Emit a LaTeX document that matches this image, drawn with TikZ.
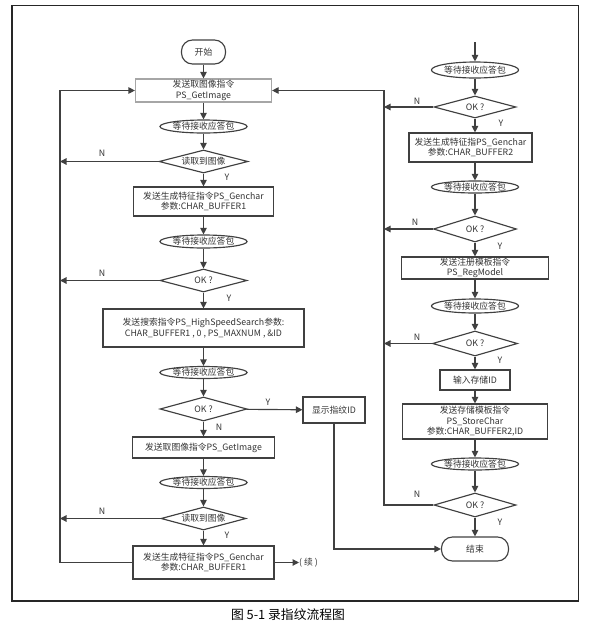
\documentclass[tikz,border=0pt]{standalone}
\usepackage{fontspec}
\newfontfamily\cjk{Noto Sans CJK SC}
\usetikzlibrary{shapes.geometric,arrows.meta}
\definecolor{ln}{HTML}{404040}
\definecolor{tx}{HTML}{333333}
\tikzset{
  base/.style={draw=ln, line width=1.15pt, text=tx, align=center, inner sep=0pt,
    font=\cjk\fontsize{8.8}{10.5}\selectfont},
  box/.style={base, rectangle},
  lbox/.style={box, draw=gray!70},
  ell/.style={base, ellipse},
  dia/.style={base, diamond, aspect=3.8},
  term/.style={base, rectangle, rounded corners=11pt},
  arr/.style={draw=ln, line width=1.15pt, -{Triangle[length=6.5pt,width=6.5pt]}},
  lab/.style={text=tx, font=\cjk\fontsize{8.8}{10}\selectfont, inner sep=0pt}
}
\begin{document}
\begin{tikzpicture}[x=1pt,y=-1pt]
\useasboundingbox (0,0) rectangle (592,633);
\draw[line width=1.3pt, draw=black!85] (12,5.5) rectangle (578.5,601);
\node[text=black, font=\cjk\fontsize{12.8}{14}\selectfont] (cap) at (288,615) {图 5-1 录指纹流程图};

% left column
\node[term, minimum width=44pt, minimum height=24pt] (start) at (203.5,52) {开始};
\node[lbox, minimum width=136pt, minimum height=23pt] (b1) at (203.5,90.5) {发送取图像指令\\PS\_GetImage};
\node[ell, minimum width=81pt, minimum height=13pt] (e1) at (203.5,126.5) {等待接收应答包};
\node[dia, minimum width=89pt, minimum height=23pt] (d1) at (203.5,161.5) {读取到图像};
\node[box, minimum width=140pt, minimum height=29pt] (b2) at (203.5,201.5) {发送生成特征指令PS\_Genchar\\参数:CHAR\_BUFFER1};
\node[ell, minimum width=81pt, minimum height=13pt] (e2) at (203.5,241.5) {等待接收应答包};
\node[dia, minimum width=87pt, minimum height=23pt] (d2) at (203.5,280.5) {OK ?};
\node[box, minimum width=201pt, minimum height=38pt] (b3) at (203.5,328) {发送搜索指令PS\_HighSpeedSearch参数:\\CHAR\_BUFFER1 , 0 , PS\_MAXNUM , \&ID};
\node[ell, minimum width=81pt, minimum height=12pt] (e3) at (203.5,372.5) {等待接收应答包};
\node[dia, minimum width=87pt, minimum height=24pt] (d3) at (203.5,409) {OK ?};
\node[box, minimum width=62pt, minimum height=26pt] (show) at (334,410) {显示指纹ID};
\node[box, minimum width=142pt, minimum height=21pt] (b4) at (203.5,447.5) {发送取图像指令PS\_GetImage};
\node[ell, minimum width=81pt, minimum height=12pt] (e4) at (203.5,482.5) {等待接收应答包};
\node[dia, minimum width=85pt, minimum height=23pt] (d4) at (203.5,518.5) {读取到图像};
\node[box, minimum width=141pt, minimum height=33pt] (b5) at (203.5,562.5) {发送生成特征指令PS\_Genchar\\参数:CHAR\_BUFFER1};
\node[lab, anchor=west] (cont) at (299,562.5) {( 续 )};

% right column
\coordinate (rin) at (475,42);
\node[ell, minimum width=79pt, minimum height=16pt] (e5) at (475,70) {等待接收应答包};
\node[dia, minimum width=82pt, minimum height=22pt] (d5) at (475,107) {OK ?};
\node[box, minimum width=123pt, minimum height=29pt] (b6) at (470.5,147.5) {发送生成特征指PS\_Genchar\\参数:CHAR\_BUFFER2};
\node[ell, minimum width=79pt, minimum height=12pt] (e6) at (475,187) {等待接收应答包};
\node[dia, minimum width=83pt, minimum height=26pt] (d6) at (475,229) {OK ?};
\node[box, minimum width=147pt, minimum height=22pt] (b7) at (475,268) {发送注册模板指令\\PS\_RegModel};
\node[ell, minimum width=79pt, minimum height=14pt] (e7) at (475,306) {等待接收应答包};
\node[dia, minimum width=85pt, minimum height=25pt] (d7) at (475,343.5) {OK ?};
\node[box, minimum width=70pt, minimum height=20pt] (b8) at (475,380) {输入存储ID};
\node[box, minimum width=145pt, minimum height=35pt] (b9) at (475,421.5) {发送存储模板指令\\PS\_StoreChar\\参数:CHAR\_BUFFER2,ID};
\node[ell, minimum width=79pt, minimum height=12pt] (e8) at (475,464) {等待接收应答包};
\node[dia, minimum width=82pt, minimum height=24pt] (d8) at (475,505) {OK ?};
\node[term, minimum width=67pt, minimum height=24pt] (end) at (475,549) {结束};

% left vertical arrows
\draw[arr] (start) -- (b1);
\draw[arr] (b1) -- (e1);
\draw[arr] (e1) -- (d1);
\draw[arr] (d1) -- (b2);
\draw[arr] (b2) -- (e2);
\draw[arr] (e2) -- (d2);
\draw[arr] (d2) -- (b3);
\draw[arr] (b3) -- (e3);
\draw[arr] (e3) -- (d3);
\draw[arr] (d3) -- (b4);
\draw[arr] (b4) -- (e4);
\draw[arr] (e4) -- (d4);
\draw[arr] (d4) -- (b5);
\draw[arr] (d3) -- (show);
\draw[arr] (b5) -- (cont);

% left loop
\coordinate (lx) at (60,0);
\draw[arr] (b5.west) -- (b5.west -| lx) -- (b1.west -| lx) -- (b1.west);
\draw[arr] (d1.west) -- (d1.west -| lx);
\draw[arr] (d2.west) -- (d2.west -| lx);
\draw[arr] (d4.west) -- (d4.west -| lx);

% right vertical arrows
\draw[arr] (rin) -- (e5);
\draw[arr] (e5) -- (d5);
\draw[arr] (d5) -- (d5 |- b6.north);
\draw[arr] (b6.south -| e6) -- (e6);
\draw[arr] (e6) -- (d6);
\draw[arr] (d6) -- (b7);
\draw[arr] (b7) -- (e7);
\draw[arr] (e7) -- (d7);
\draw[arr] (d7) -- (b8);
\draw[arr] (b8) -- (b9);
\draw[arr] (b9) -- (e8);
\draw[arr] (e8) -- (d8);
\draw[arr] (d8) -- (end);

% right loop
\coordinate (rx) at (384,0);
\draw[arr] (d8.west) -- (d8.west -| rx) -- (b1.east -| rx) -- (b1.east);
\draw[arr] (d5.west) -- (d5.west -| rx);
\draw[arr] (d6.west) -- (d6.west -| rx);
\draw[arr] (d7.west) -- (d7.west -| rx);

% show -> end
\draw[arr] (show.south) -- (show.south |- end.west) -- (end.west);

% labels
\node[lab] (n1) at (102,153) {N};
\node[lab] (y1) at (227,177) {Y};
\node[lab] (n2) at (102,273) {N};
\node[lab] (y2) at (229,298) {Y};
\node[lab] (y3) at (268,402) {Y};
\node[lab] (n3) at (219,427) {N};
\node[lab] (n4) at (102,511) {N};
\node[lab] (y4) at (227,535) {Y};
\node[lab] (n5) at (417,101) {N};
\node[lab] (y5) at (501,123) {Y};
\node[lab] (n6) at (415,222) {N};
\node[lab] (y6) at (500,246) {Y};
\node[lab] (n7) at (417,337) {N};
\node[lab] (y7) at (500,360) {Y};
\node[lab] (n8) at (417,494) {N};
\node[lab] (y8) at (500,522) {Y};
\end{tikzpicture}
\end{document}
